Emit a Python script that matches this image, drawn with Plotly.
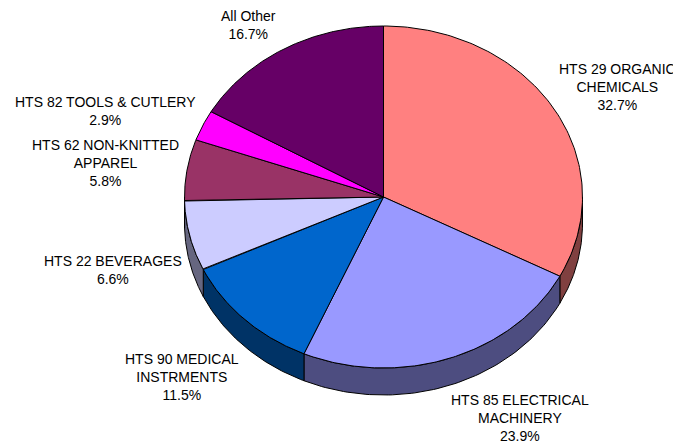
import numpy as np
import plotly.graph_objects as go

# ---- data ----
categories = ["HTS 29 ORGANIC<br>CHEMICALS", "HTS 85 ELECTRICAL<br>MACHINERY",
              "HTS 90 MEDICAL<br>INSTRMENTS", "HTS 22 BEVERAGES",
              "HTS 62 NON-KNITTED<br>APPAREL", "HTS 82 TOOLS & CUTLERY", "All Other"]
shares = [32.7, 23.9, 11.5, 6.6, 5.8, 2.9, 16.7]

# ---- style ----
top_colors = ["#FF8080", "#9999FF", "#0066CC", "#CCCCFF", "#993366", "#FF00FF", "#660066"]
side_colors = ["#804040", "#4D4D80", "#003366", "#666680", "#4D1A33", "#800080", "#330033"]
label_pos = [(617, 87), (520, 418), (182, 377), (113, 270), (105, 163), (105, 111), (248, 25)]

W, H = 681, 447
OFF = 8  # page body margin compensation
cx, cy, rx, ry, depth = 383.5, 197, 199, 171, 27

fig = go.Figure()

total = sum(shares)
bounds = np.concatenate([[0], np.cumsum(shares)]) / total * 360.0


def pt(theta_deg, dy=0.0):
    t = np.radians(theta_deg)
    return cx + rx * np.sin(t), cy - ry * np.cos(t) + dy


# side walls (front half only: 90..270 deg)
for i in range(len(shares)):
    a, b = max(bounds[i], 90), min(bounds[i + 1], 270)
    if b <= a:
        continue
    th = np.linspace(a, b, 80)
    xt, yt = pt(th)
    xb, yb = pt(th[::-1], depth)
    xs = np.concatenate([xt, xb, [xt[0]]])
    ys = np.concatenate([yt, yb, [yt[0]]])
    fig.add_trace(go.Scatter(x=xs, y=ys, mode="lines", fill="toself",
                             fillcolor=side_colors[i],
                             line=dict(color="black", width=1),
                             hoverinfo="skip", showlegend=False))

# top faces
for i in range(len(shares)):
    th = np.linspace(bounds[i], bounds[i + 1], 120)
    xa, ya = pt(th)
    xs = np.concatenate([[cx], xa, [cx]])
    ys = np.concatenate([[cy], ya, [cy]])
    fig.add_trace(go.Scatter(x=xs, y=ys, mode="lines", fill="toself",
                             fillcolor=top_colors[i],
                             line=dict(color="black", width=1),
                             hoverinfo="skip", showlegend=False))

for i, (lab, v) in enumerate(zip(categories, shares)):
    lx, ly = label_pos[i]
    fig.add_annotation(x=lx, y=ly, text=f"{lab}<br>{v:.1f}%", showarrow=False,
                       xanchor="center", yanchor="middle", align="center",
                       font=dict(family="Liberation Sans, Arial", size=14, color="black"))

fig.update_layout(
    width=W, height=H, margin=dict(l=0, r=0, t=0, b=0),
    paper_bgcolor="white", plot_bgcolor="white",
    xaxis=dict(range=[OFF, W + OFF], visible=False, fixedrange=True),
    yaxis=dict(range=[H + OFF, OFF], visible=False, fixedrange=True),
)
fig.write_html("out.html")
